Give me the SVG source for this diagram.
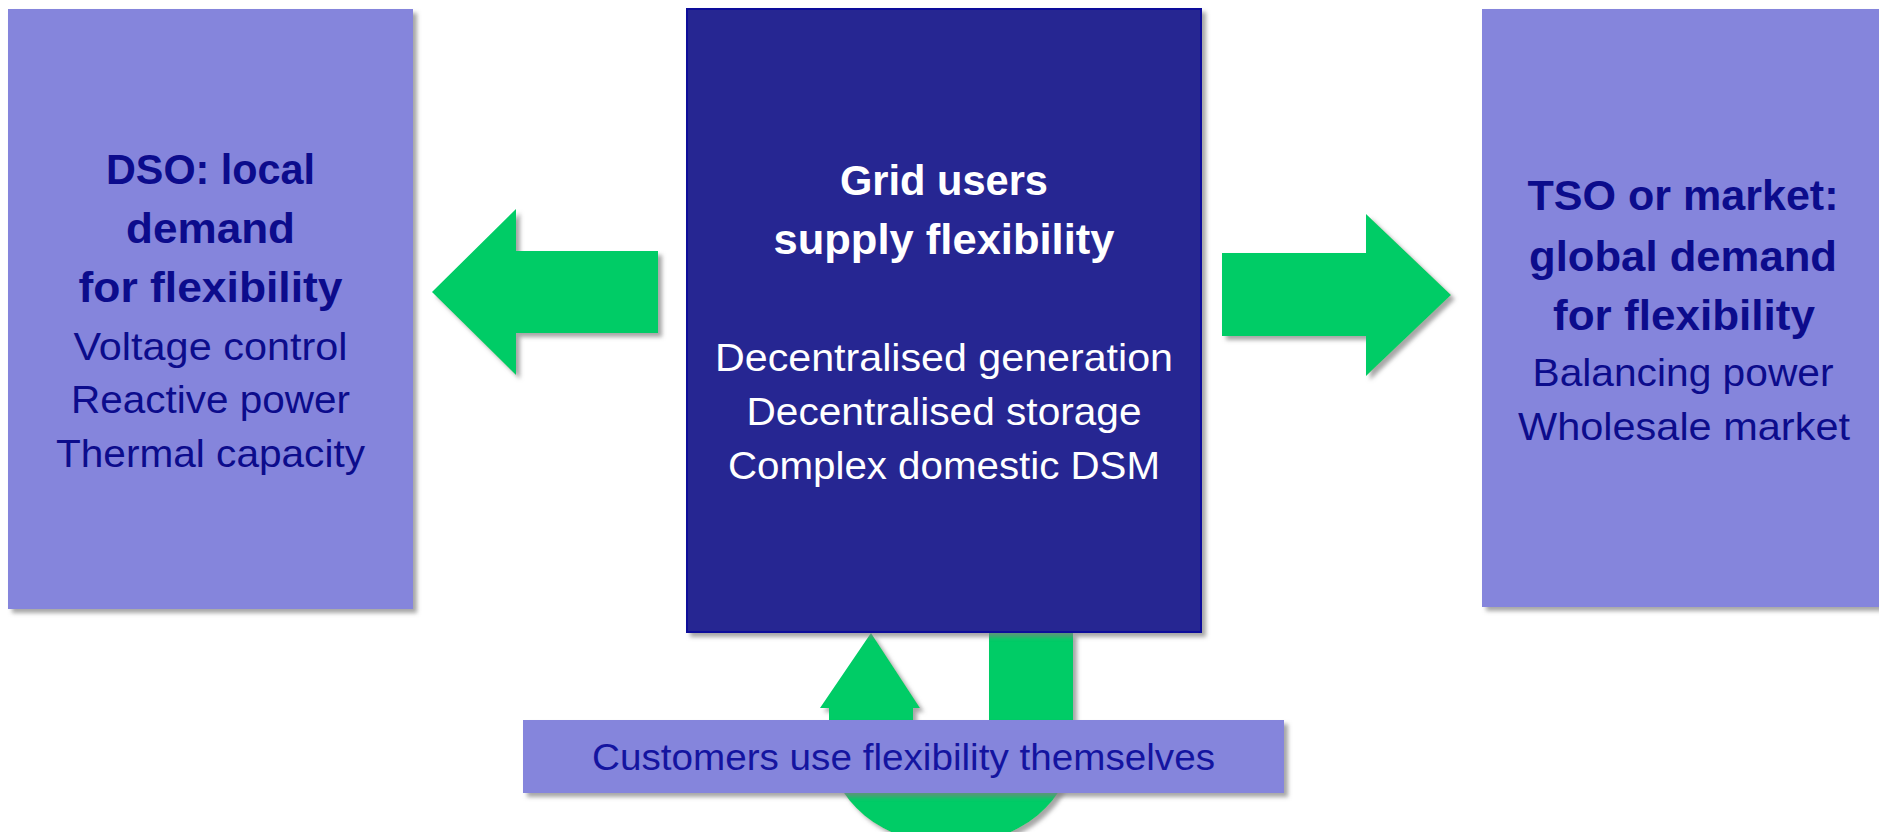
<svg xmlns="http://www.w3.org/2000/svg" width="1879" height="832" viewBox="0 0 1879 832">
<defs>
<filter id="sh" x="-10%" y="-10%" width="130%" height="130%">
<feDropShadow dx="4" dy="4" stdDeviation="2" flood-color="#808080" flood-opacity="0.7"/>
</filter>
<style>
.light{fill:#8585DC;}
.dark{fill:#262692;stroke:#10109A;stroke-width:2;}
.green{fill:#00CC66;}
text{font-family:"Liberation Sans",Arial,sans-serif;text-anchor:middle;}
.b{font-weight:bold;font-size:42px;}
.r{font-size:39px;}
.navy{fill:#0C0C8C;}
.white{fill:#FFFFFF;}
.lbl{font-size:37px;fill:#1414A0;}
</style>
</defs>
<rect width="1879" height="832" fill="#FFFFFF"/>

<g id="connectors">
<polygon id="arrow-left" class="green" filter="url(#sh)" points="432,292 516,209 516,251 658,251 658,333 516,333 516,375"/>
<polygon id="arrow-right" class="green" filter="url(#sh)" points="1222,253 1366,253 1366,214 1451,295 1366,376 1366,336 1222,336"/>
<path id="u-arrow" class="green" filter="url(#sh)" d="M 871 633 L 920 708 L 913 708 L 913 745 A 38 30 0 0 0 989 745 L 989 632 L 1073 632 L 1073 745 A 122 100 0 0 1 829 745 L 829 708 L 820 708 Z"/>
</g>

<g id="node-dso">
<rect class="light" filter="url(#sh)" x="8" y="9" width="405" height="600"/>
<text class="b navy" x="210.5" y="184" textLength="209" lengthAdjust="spacingAndGlyphs">DSO: local</text>
<text class="b navy" x="210.5" y="243" textLength="169" lengthAdjust="spacingAndGlyphs">demand</text>
<text class="b navy" x="210.5" y="302" textLength="264" lengthAdjust="spacingAndGlyphs">for flexibility</text>
<text class="r navy" x="210.5" y="360" textLength="274" lengthAdjust="spacingAndGlyphs">Voltage control</text>
<text class="r navy" x="210.5" y="413" textLength="279" lengthAdjust="spacingAndGlyphs">Reactive power</text>
<text class="r navy" x="210.5" y="467" textLength="309" lengthAdjust="spacingAndGlyphs">Thermal capacity</text>
</g>

<g id="node-grid-users">
<rect class="dark" filter="url(#sh)" x="687" y="9" width="514" height="623"/>
<text class="b white" x="944" y="195" textLength="208" lengthAdjust="spacingAndGlyphs">Grid users</text>
<text class="b white" x="944" y="254" textLength="341" lengthAdjust="spacingAndGlyphs">supply flexibility</text>
<text class="r white" x="944" y="371" textLength="458" lengthAdjust="spacingAndGlyphs">Decentralised generation</text>
<text class="r white" x="944" y="425" textLength="395" lengthAdjust="spacingAndGlyphs">Decentralised storage</text>
<text class="r white" x="944" y="479" textLength="432" lengthAdjust="spacingAndGlyphs">Complex domestic DSM</text>
</g>

<g id="node-tso">
<rect class="light" filter="url(#sh)" x="1482" y="9" width="405" height="598"/>
<text class="b navy" x="1683" y="210" textLength="311" lengthAdjust="spacingAndGlyphs">TSO or market:</text>
<text class="b navy" x="1683" y="271" textLength="308" lengthAdjust="spacingAndGlyphs">global demand</text>
<text class="b navy" x="1684" y="330" textLength="262" lengthAdjust="spacingAndGlyphs">for flexibility</text>
<text class="r navy" x="1683" y="386" textLength="301" lengthAdjust="spacingAndGlyphs">Balancing power</text>
<text class="r navy" x="1684" y="440" textLength="332" lengthAdjust="spacingAndGlyphs">Wholesale market</text>
</g>

<g id="node-customers">
<rect class="light" filter="url(#sh)" x="523" y="720" width="761" height="73"/>
<text class="lbl" x="903.5" y="770" textLength="623" lengthAdjust="spacingAndGlyphs">Customers use flexibility themselves</text>
</g>
</svg>
